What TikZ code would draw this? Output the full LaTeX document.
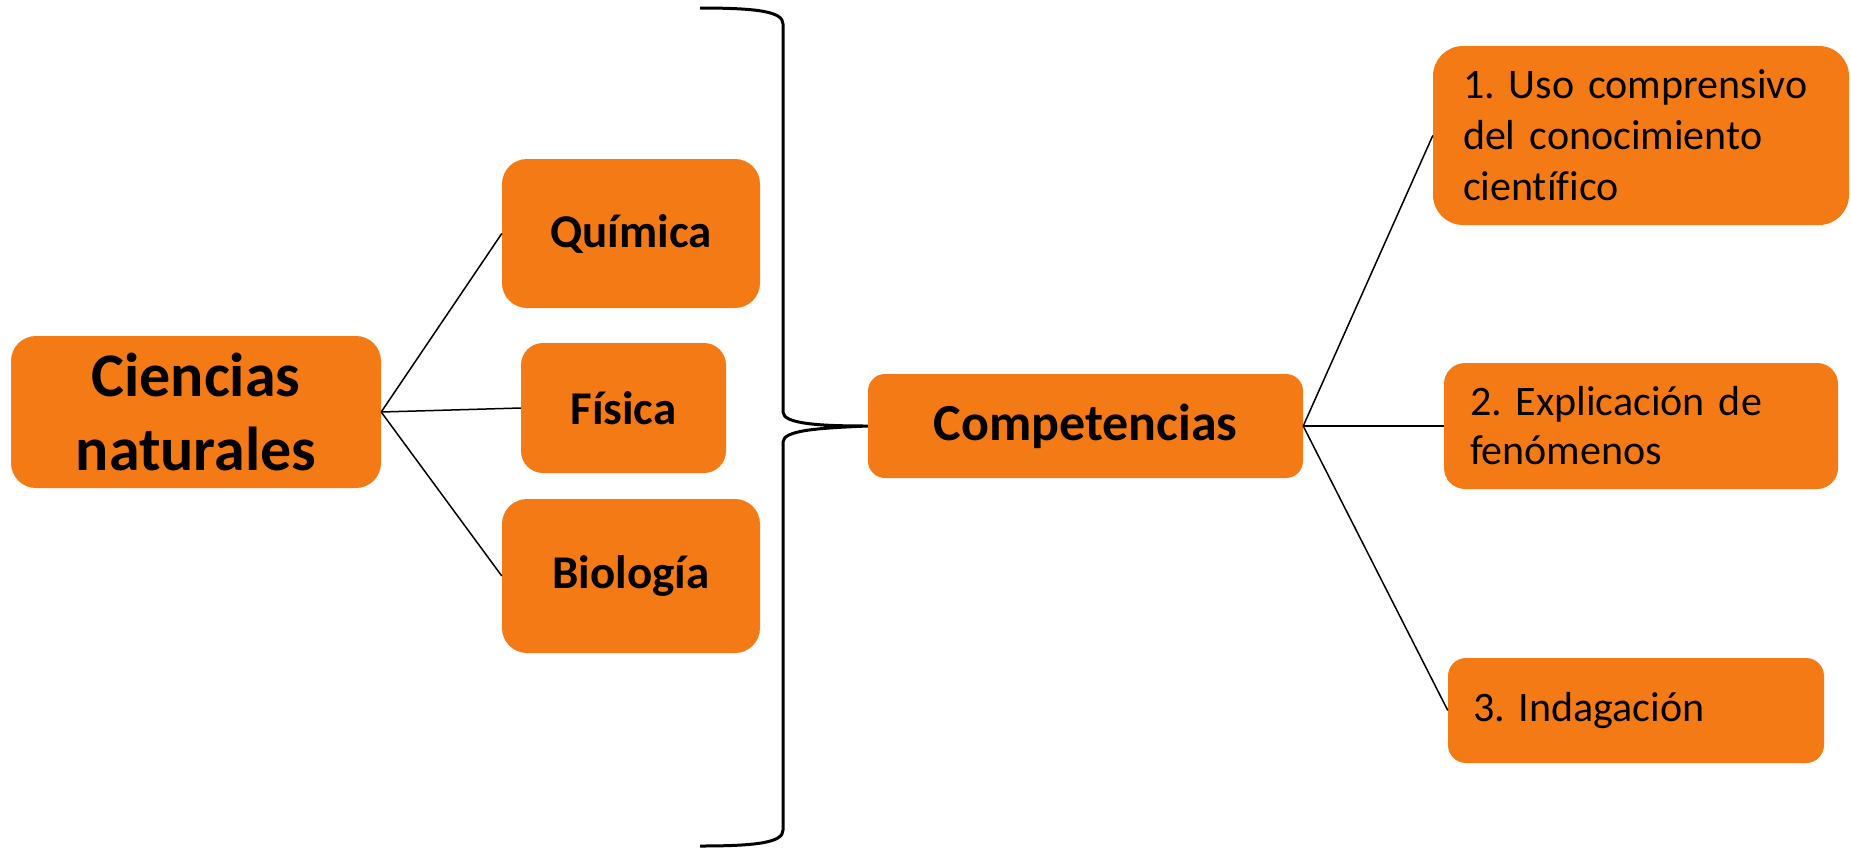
\documentclass[tikz,border=0pt]{standalone}
\usepackage{fontspec}
\setmainfont{Carlito}[Ligatures=NoCommon]
\definecolor{boxorange}{HTML}{F47A16}
\begin{document}
\frenchspacing
\begin{tikzpicture}[x=1pt,y=-1pt,
  box/.style={fill=boxorange,draw=none,rounded corners=20pt,inner sep=0pt,align=center},
  boldbox/.style={box,font=\bfseries},
  leftbox/.style={box,align=left},
  conn/.style={draw=black,line width=1.5pt},
  brace/.style={draw=black,line width=3pt}]
\useasboundingbox (0,0) rectangle (1851,849);
% left column
\node[boldbox,rounded corners=25pt,minimum width=370pt,minimum height=152pt,font=\bfseries\fontsize{62}{74}\selectfont] (cn) at (196,412) {Ciencias\\naturales};
\node[boldbox,rounded corners=25pt,minimum width=258pt,minimum height=149pt,font=\bfseries\fontsize{47}{56}\selectfont] (qu) at (631,233.5) {Química};
\node[boldbox,rounded corners=22pt,minimum width=205pt,minimum height=130pt,font=\bfseries\fontsize{47}{56}\selectfont] (fi) at (623.5,408) {Física};
\node[boldbox,rounded corners=25pt,minimum width=258pt,minimum height=154pt,font=\bfseries\fontsize{47}{56}\selectfont] (bi) at (631,576) {Biología};
% middle
\node[boldbox,rounded corners=17pt,minimum width=435pt,minimum height=104pt,font=\bfseries\fontsize{52}{62}\selectfont] (co) at (1085.5,426) {Competencias};
% right column
\node[leftbox,rounded corners=30pt,text width=356pt,inner xsep=30pt,minimum height=179pt,font=\fontsize{42}{51}\selectfont] (c1) at (1641,135.5) {\mbox{1. Uso comprensivo}\\\mbox{del conocimiento}\\\mbox{científico}};
\node[leftbox,rounded corners=21pt,text width=342pt,inner xsep=26pt,minimum height=126pt,font=\fontsize{42}{49}\selectfont] (c2) at (1641,426) {\mbox{2. Explicación de}\\\mbox{fenómenos}};
\node[leftbox,rounded corners=18pt,text width=326pt,inner xsep=25pt,minimum height=105pt,font=\fontsize{42}{50}\selectfont] (c3) at (1636,710.5) {\mbox{3. Indagación}};
% connectors
\draw[conn] (cn.east) -- (qu.west);
\draw[conn] (cn.east) -- (fi.west);
\draw[conn] (cn.east) -- (bi.west);
\draw[conn] (co.east) -- (c1.west);
\draw[conn] (co.east) -- (c2.west);
\draw[conn] (co.east) -- (c3.west);
% brace
\coordinate (btop) at (700,8);
\coordinate (bbot) at (700,846);
\draw[brace] (btop) .. controls (760,8) and (783,12) .. (783,24)
  -- (783,412) .. controls (783,424) and (820,426) .. (co.west)
  .. controls (820,428) and (783,430) .. (783,442)
  -- (783,830) .. controls (783,842) and (760,846) .. (bbot);
\end{tikzpicture}
\end{document}
